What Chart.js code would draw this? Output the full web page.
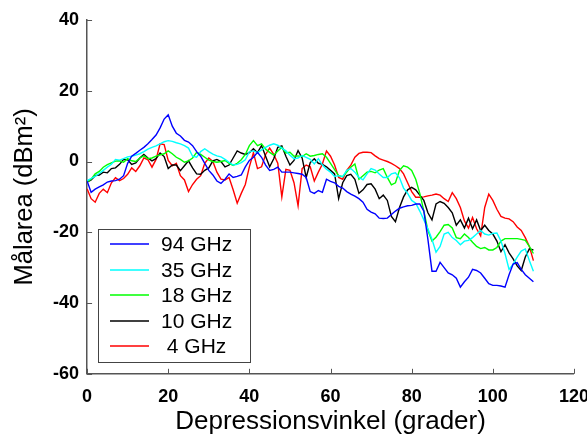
<!DOCTYPE html>
<html>
<head>
<meta charset="utf-8">
<script src="https://cdn.jsdelivr.net/npm/chart.js@4"></script>
<style>
  html, body { margin: 0; padding: 0; background: #fff; overflow: hidden; }
  canvas { display: block; }
</style>
</head>
<body>
<canvas id="maalChart" width="601" height="434"></canvas>
<script>
// Vinklar (grader), ett värde per grad
const vinklar = [];
for (let i = 0; i <= 110; i++) vinklar.push(i);

const etiketter = ['94 GHz', '35 GHz', '18 GHz', '10 GHz', ' 4 GHz'];
const farger = ['#0000ff', '#00ffff', '#00ff00', '#000000', '#ff0000'];

const xTicks = [0, 20, 40, 60, 80, 100, 120];
const yTicks = [-60, -40, -20, 0, 20, 40];

// 94 GHz
const ghz94 = [
  -5.5, -8.7, -7.8, -7.2, -6.6, -5.8, -5.5, -5.4, -5, -4,
  -0.5, 1.5, 2.3, 3.2, 4, 5, 6.2, 7.5, 9.5, 12,
  13.2, 10, 8, 7.2, 6, 5.5, 4.5, 2.8, 1.5, -0.5,
  -2.5, -3.8, -5.5, -6.2, -5, -3.5, -4.5, -4.2, -3.8, -1.5,
  0.3, 1.2, 2.6, 1.2, -1, -2.5, -2.2, -1.6, -3, -3,
  -3, -3.2, -3.4, -3.6, -4.5, -8.5, -9, -8.2, -8.7, -5,
  -5.6, -6, -7, -7.5, -8.5, -9.2, -9.8, -10.5, -11.5, -13.5,
  -14.3, -14.8, -16, -16.1, -16, -15, -14, -13.2, -12.8, -12.5,
  -12.4, -12, -12, -14, -22, -31, -31, -28.5, -30, -31.5,
  -32, -33, -35.5, -34, -32.7, -30.5, -30.8, -31.5, -33, -34.5,
  -35, -35, -35.2, -35.5, -32, -29, -28.6, -30.5, -32, -33,
  -34
];

// 35 GHz
const ghz35 = [
  -5.4, -4.8, -4.2, -3.4, -2.5, -1.6, -0.8, 0.6, 0.4, 0.8,
  1.3, 1.5, 1.8, 2.2, 2.8, 3.5, 4, 4.4, 5, 5.6,
  5.9, 5.7, 5.3, 5, 4.5, 3.8, 1.5, 1.2, 2.8, 3.6,
  2.8, 2.1, 1.6, 1.3, 0.6, -0.2, -1, -0.8, -0.3, 0.5,
  2.8, 3, 2.5, 3.3, 4, 4.6, 5, 4.6, 3.8, 3,
  1.8, 0.8, 1, 1.7, 1.2, 0.6, -0.7, 0.8, -1, -2.2,
  -3, -4.2, -4, -4.3, -2.5, -2, -3, -4.5, -5.2, -3.5,
  -2, -2.4, -3.5, -4.5, -4.5, -3.5, -3.2, -4.6, -7.5, -9,
  -11, -11.8, -14, -16.5, -19, -22, -25.6, -24, -20.5, -20,
  -21.5, -22.3, -23.5, -22.5, -22.3, -21.5, -20.5, -19.5, -20.5, -20.8,
  -20.3, -20.2, -22.5, -26, -30.5, -29, -27, -25.3, -24.7, -28,
  -31
];

// 18 GHz
const ghz18 = [
  -5.8, -5, -3.5, -2.8, -1.6, -0.9, -0.4, 0.1, 0.2, -0.2,
  0.8, 0.2, 0, 1, 1.6, 0.8, 1, 1.5, 1.9, 2.2,
  3, 2.2, 1.2, 0.6, -0.2, 0.2, 1, 2.6, 2, 1.2,
  0.4, 0, -0.2, 0, 0.3, -0.5, -1.1, -0.5, 0.5, 2,
  4.5, 5.9, 4.5, 5, 3.5, 2.6, 1.8, 3, 4, 2.4,
  2.6, 1.5, 1.6, 1.4, 2.2, 1.5, 1.7, 2, 2.2, 1.2,
  -0.5, -2.3, -4, -4.3, -3, -1.6, -0.7, -5, -4, -3,
  -2.8, -3.2, -2.4, -2, -4.5, -6.6, -6, -2.5, -1.2, -1.6,
  -2.5, -5, -9, -14, -19.5, -22.5, -21.4, -19.8, -18, -17.8,
  -18.8, -21.5, -21.8, -20.5, -21.5, -22.8, -24, -24.6, -24.3, -25,
  -25, -24.3, -22.5, -21.8, -21.8, -21.8, -21.8, -22, -22.3, -24,
  -26
];

// 10 GHz
const ghz10 = [
  -5.8, -5.2, -4, -3.8, -3, -3.2, -2, -1.8, -0.8, 0.6,
  0.5, -0.8, -0.4, 1, 2, 1, 0.2, 0.8, 2.4, 1.4,
  -2, -1, -1, -2.6, -1.2, 0.2, -1.8, -3.5, -3.6, -2.5,
  -1.8, 0.2, 0.6, 0, -1.5, -1, 1, 3, 2.4, 2,
  2.5, 3.6, 2.5, 4.5, 1.5, -1.5, 0.8, 4, 4.4, 1.5,
  -1, 0.3, 3.1, 1, -4.5, -0.3, 0.8, -0.5, -0.8, -1.5,
  -2.5, -3.5, -10.5, -6, -4, -3.6, -5, -9, -8, -6.5,
  -6.3, -7.8, -10.5, -9.5, -11, -15.5, -17, -13, -10, -8,
  -7.3, -8, -9.5, -11, -14.5, -16.5, -12, -11.3, -11.8, -13,
  -14.5, -18, -16.5, -18.8, -16, -19, -16.5, -19.5, -18, -19.5,
  -20.5, -22.5, -25.5, -23.5, -25.8, -27.5, -29.5, -30.8, -27, -24.7,
  -25
];

// 4 GHz
const ghz4 = [
  -7.7, -10.5, -11.5, -9, -7.8, -8.8, -6, -4.6, -5.4, -4.8,
  -3.6, -1.8, -2.8, -1.2, 1, 0.5, -1.6, 0.6, 5, 4.8,
  0.3, -1.2, -0.5, -4, -5.2, -8.5, -6.5, -5, -4, -0.5,
  1, 0, -3, -5, -5.2, -4.5, -8, -11.8, -9, -6.5,
  -1.5, 2.5, -2, -1.5, 2, 3.8, 2, -0.5, -10, -2.2,
  -2.5, -6, -12.5, -2, -1, -1.5, -5.5, -3, -0.7, 3,
  1.5, -1, -4.5, -5, -2.5, -1, 1.2, 2.3, 2.6, 2.6,
  2.5, 1.6, 0.8, 0.4, 0, -0.5, -1.2, -2, -3.5, -6,
  -8.5, -10.1, -10.1, -10, -9.7, -9.5, -9.2, -9.5, -10.5, -11.3,
  -8.8, -10.5, -13, -16.8, -18.8, -15.8, -19, -21, -13, -9.2,
  -11, -13.5, -15.5, -16, -16.2, -17, -18.5, -19.5, -21.5, -24,
  -28
];

const serier = [ghz94, ghz35, ghz18, ghz10, ghz4];

const typsnitt = "'Liberation Sans', Arial, sans-serif";
const axelFarg = '#555555';

// inre tickmarkeringar och legendruta som i MATLAB-figuren
const matlabPlugin = {
  id: 'matlabPlugin',
  afterDraw(chart) {
    const ctx = chart.ctx;
    const area = chart.chartArea;
    const xs = chart.scales.x;
    const ys = chart.scales.y;
    ctx.save();
    ctx.strokeStyle = axelFarg;
    ctx.lineWidth = 1;
    ctx.beginPath();
    xTicks.forEach(v => {
      const px = Math.round(xs.getPixelForValue(v)) + 0.5;
      ctx.moveTo(px, area.bottom);
      ctx.lineTo(px, area.bottom - 5);
    });
    yTicks.forEach(v => {
      const py = Math.round(ys.getPixelForValue(v)) + 0.5;
      ctx.moveTo(area.left, py);
      ctx.lineTo(area.left + 5, py);
    });
    ctx.stroke();

    // legend
    const bx = Math.round(area.left) + 11;
    const bw = 152;
    const bh = 133;
    const by = Math.round(area.bottom) - 12 - bh;
    ctx.fillStyle = '#ffffff';
    ctx.fillRect(bx, by, bw, bh);
    ctx.strokeStyle = '#444444';
    ctx.lineWidth = 1;
    ctx.strokeRect(bx + 0.5, by + 0.5, bw, bh);
    ctx.font = '21px ' + typsnitt;
    ctx.textBaseline = 'middle';
    ctx.textAlign = 'left';
    etiketter.forEach((txt, i) => {
      const yy = Math.round(by + 15 + i * 25.5);
      ctx.beginPath();
      ctx.strokeStyle = farger[i];
      ctx.lineWidth = 1.5;
      ctx.moveTo(bx + 12, yy);
      ctx.lineTo(bx + 51, yy);
      ctx.stroke();
      ctx.fillStyle = '#000000';
      ctx.fillText(txt, bx + 63, yy + 1);
    });
    ctx.restore();
  }
};

const ctx = document.getElementById('maalChart').getContext('2d');

new Chart(ctx, {
  type: 'line',
  data: {
    datasets: serier.map((s, i) => ({
      label: etiketter[i],
      data: s.map((v, j) => ({ x: vinklar[j], y: v })),
      borderColor: farger[i],
      borderWidth: 1.4,
      pointRadius: 0,
      fill: false,
      tension: 0
    }))
  },
  options: {
    responsive: false,
    animation: false,
    layout: {
      padding: { left: 11, top: 20, right: 15, bottom: -2 }
    },
    scales: {
      x: {
        type: 'linear',
        min: 0,
        max: 120,
        afterBuildTicks: (axis) => { axis.ticks = xTicks.map(v => ({ value: v })); },
        grid: { display: false, drawTicks: false },
        border: { display: true, color: axelFarg, width: 1.5 },
        ticks: {
          padding: 12,
          color: '#000',
          font: { family: typsnitt, size: 18, weight: 'bold' }
        },
        title: {
          display: true,
          text: 'Depressionsvinkel (grader)',
          color: '#000',
          padding: { top: -12, bottom: 0 },
          font: { family: typsnitt, size: 26, lineHeight: 1.1 }
        }
      },
      y: {
        min: -60,
        max: 40,
        afterBuildTicks: (axis) => { axis.ticks = yTicks.map(v => ({ value: v })); },
        grid: { display: false, drawTicks: false },
        border: { display: true, color: axelFarg, width: 1.5 },
        ticks: {
          padding: 8,
          color: '#000',
          font: { family: typsnitt, size: 18, weight: 'bold' }
        },
        title: {
          display: true,
          text: 'Målarea (dBm²)',
          color: '#000',
          padding: { top: 0, bottom: 6 },
          font: { family: typsnitt, size: 25.5, lineHeight: 1.1 }
        }
      }
    },
    plugins: {
      legend: { display: false },
      tooltip: { enabled: false }
    }
  },
  plugins: [matlabPlugin]
});
</script>
</body>
</html>
